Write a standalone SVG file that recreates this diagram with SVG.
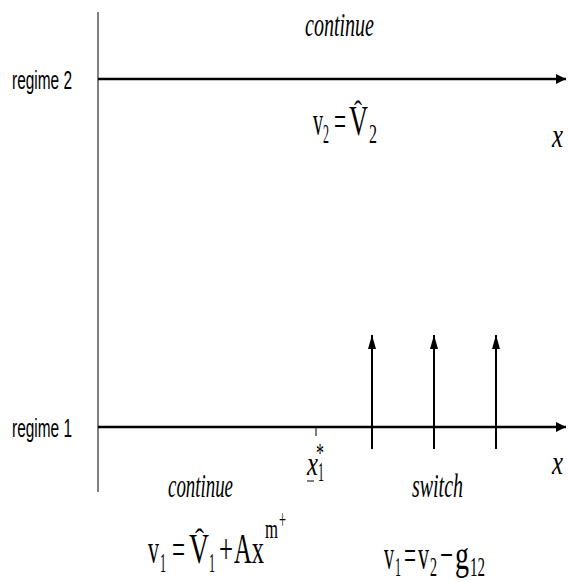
<svg xmlns="http://www.w3.org/2000/svg" width="568" height="582" viewBox="0 0 568 582">
<defs>
<marker id="ah" viewBox="0 0 10 10" refX="10" refY="5" markerWidth="10" markerHeight="10" markerUnits="userSpaceOnUse" orient="auto"><path d="M0,0 L10,5 L0,10 z" fill="#000"/></marker>
<marker id="av" viewBox="0 0 14 8" refX="14" refY="4" markerWidth="14" markerHeight="8" markerUnits="userSpaceOnUse" orient="auto"><path d="M0,0 L14,4 L0,8 z" fill="#000"/></marker>
</defs>
<style>
.lab{font-family:"Liberation Sans",Arial,sans-serif;font-size:26px;fill:#000}
.it{font-family:"Liberation Serif","Times New Roman",serif;font-style:italic;font-size:34px;fill:#000}
.m{font-family:"Liberation Serif","Times New Roman",serif;font-size:42px;fill:#000}
.s{font-family:"Liberation Serif","Times New Roman",serif;font-size:27px;fill:#000}
.hat{font-family:"Liberation Serif","Times New Roman",serif;font-size:30px;fill:#000}
.ax{stroke:#000;stroke-width:2.5;fill:none}
.thin{stroke:#000;stroke-width:1;fill:none}
.up{stroke:#000;stroke-width:2;fill:none}
</style>
<g id="connectors">
<line class="thin" x1="98" y1="12" x2="98" y2="492"/>
<line class="ax" x1="98" y1="79" x2="566" y2="79" marker-end="url(#ah)"/>
<line class="ax" x1="98" y1="427" x2="566" y2="427" marker-end="url(#ah)"/>
<line class="thin" x1="316" y1="427" x2="316" y2="436"/>
<line class="up" x1="372" y1="449" x2="372" y2="335" marker-end="url(#av)"/>
<line class="up" x1="434" y1="449" x2="434" y2="335" marker-end="url(#av)"/>
<line class="up" x1="496" y1="449" x2="496" y2="335" marker-end="url(#av)"/>
</g>
<g id="regime2">
<text class="lab" x="12" y="89" textLength="60" lengthAdjust="spacingAndGlyphs">regime 2</text>
<text class="it" x="305" y="36" textLength="69" lengthAdjust="spacingAndGlyphs">continue</text>
<text class="it" x="552" y="147" textLength="11" lengthAdjust="spacingAndGlyphs">x</text>
<g id="eq2">
<text class="m" x="313" y="135" textLength="10" lengthAdjust="spacingAndGlyphs">v</text>
<text class="s" x="323" y="143" textLength="6" lengthAdjust="spacingAndGlyphs">2</text>
<text class="m" x="334" y="135" textLength="12" lengthAdjust="spacingAndGlyphs">=</text>
<text class="m" x="349" y="135" textLength="19" lengthAdjust="spacingAndGlyphs">V</text>
<text class="hat" x="354" y="121" textLength="8" lengthAdjust="spacingAndGlyphs">ˆ</text>
<text class="s" x="369" y="143" textLength="8" lengthAdjust="spacingAndGlyphs">2</text>
</g>
</g>
<g id="regime1">
<text class="lab" x="12" y="437" textLength="60" lengthAdjust="spacingAndGlyphs">regime 1</text>
<text class="it" x="552" y="474" textLength="11" lengthAdjust="spacingAndGlyphs">x</text>
<text class="it" x="168" y="497" textLength="65" lengthAdjust="spacingAndGlyphs">continue</text>
<text class="it" x="412" y="497" textLength="51" lengthAdjust="spacingAndGlyphs">switch</text>
</g>
<g id="xstar">
<text class="it" x="307" y="475" textLength="11" lengthAdjust="spacingAndGlyphs">x</text>
<line class="thin" x1="307" y1="481" x2="314" y2="481"/>
<text class="s" x="318" y="481" font-size="22" textLength="6" lengthAdjust="spacingAndGlyphs">1</text>
<text class="s" x="316" y="462" font-size="20" textLength="8" lengthAdjust="spacingAndGlyphs">*</text>
</g>
<g id="eq1a">
<text class="m" x="148" y="563" textLength="11" lengthAdjust="spacingAndGlyphs">v</text>
<text class="s" x="160" y="572" textLength="6" lengthAdjust="spacingAndGlyphs">1</text>
<text class="m" x="172" y="563" textLength="13" lengthAdjust="spacingAndGlyphs">=</text>
<text class="m" x="189" y="563" textLength="20" lengthAdjust="spacingAndGlyphs">V</text>
<text class="hat" x="195" y="549" textLength="9" lengthAdjust="spacingAndGlyphs">ˆ</text>
<text class="s" x="209" y="572" textLength="6" lengthAdjust="spacingAndGlyphs">1</text>
<text class="m" x="219" y="563" textLength="14" lengthAdjust="spacingAndGlyphs">+</text>
<text class="m" x="234" y="563" textLength="30" lengthAdjust="spacingAndGlyphs">Ax</text>
<text class="s" x="265" y="538" font-size="22" textLength="13" lengthAdjust="spacingAndGlyphs">m</text>
<text class="s" x="279" y="529" font-size="14" textLength="7" lengthAdjust="spacingAndGlyphs">+</text>
</g>
<g id="eq1b">
<text class="m" x="384" y="569" textLength="10" lengthAdjust="spacingAndGlyphs">v</text>
<text class="s" x="395" y="576" font-size="25" textLength="6" lengthAdjust="spacingAndGlyphs">1</text>
<text class="m" x="404" y="569" textLength="12" lengthAdjust="spacingAndGlyphs">=</text>
<text class="m" x="418" y="569" textLength="11" lengthAdjust="spacingAndGlyphs">v</text>
<text class="s" x="430" y="576" font-size="25" textLength="7" lengthAdjust="spacingAndGlyphs">2</text>
<text class="m" x="440" y="569" textLength="13" lengthAdjust="spacingAndGlyphs">−</text>
<text class="m" x="455" y="569" textLength="14" lengthAdjust="spacingAndGlyphs">g</text>
<text class="s" x="470" y="576" font-size="25" textLength="15" lengthAdjust="spacingAndGlyphs">12</text>
</g>
</svg>
